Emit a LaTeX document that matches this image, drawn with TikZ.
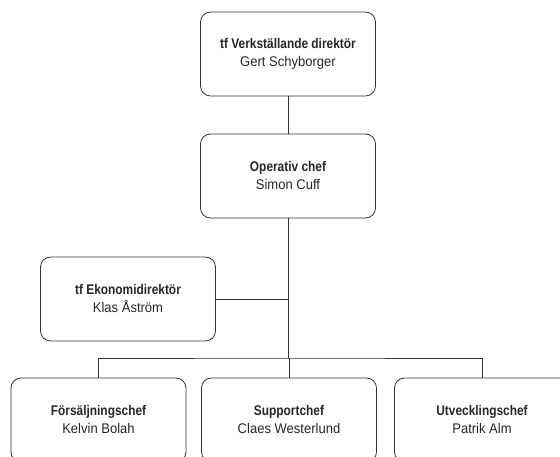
\documentclass[tikz,border=0pt]{standalone}
\usepackage{fontspec}
\setmainfont{Liberation Sans}[FakeStretch=0.93]
\newfontfamily\titlefont{Liberation Sans}[FakeStretch=0.85]
\usetikzlibrary{positioning}

\definecolor{linegray}{gray}{0.2}
\definecolor{textgray}{gray}{0.15}

% title line and name line in a box
\newcommand{\orgbox}[2]{{\titlefont\bfseries #1}\\#2}

\tikzset{
    orgunit/.style={draw=linegray, line width=0.8pt, rounded corners=10pt,
        minimum width=175pt, minimum height=84pt, align=center,
        text=textgray, font=\fontsize{14}{18}\selectfont},
    orgline/.style={draw=linegray, line width=0.8pt}
}

\begin{document}
\begin{tikzpicture}[x=1pt, y=1pt]

    % these coordinates fix the size of the chart
    \useasboundingbox (0,0) rectangle (560,457);
    \clip (0,0) rectangle (560,457);

    % management
    \node[orgunit] (vd) at (288,403) {\orgbox{tf Verkställande direktör}{Gert Schyborger}};
    \node[orgunit] (op) at (288,281) {\orgbox{Operativ chef}{Simon Cuff}};
    \node[orgunit] (eko) at (128,158) {\orgbox{tf Ekonomidirektör}{Klas Åström}};

    % department heads
    \node[orgunit] (salj) at (98.5,37) {\orgbox{Försäljningschef}{Kelvin Bolah}};
    \node[orgunit] (supp) at (289,37) {\orgbox{Supportchef}{Claes Westerlund}};
    \node[orgunit] (utv) at (482,37) {\orgbox{Utvecklingschef}{Patrik Alm}};

    % connectors
    \coordinate (bus) at (289,99);
    \draw[orgline] (vd) -- (op);
    \draw[orgline] (op.south) -- (op.south |- bus);
    \draw[orgline] (eko.east) -- (eko.east -| op.south);
    \draw[orgline] (salj.north) |- (bus) -| (utv.north);
    \draw[orgline] (supp.north) -- (bus);

\end{tikzpicture}
\end{document}
